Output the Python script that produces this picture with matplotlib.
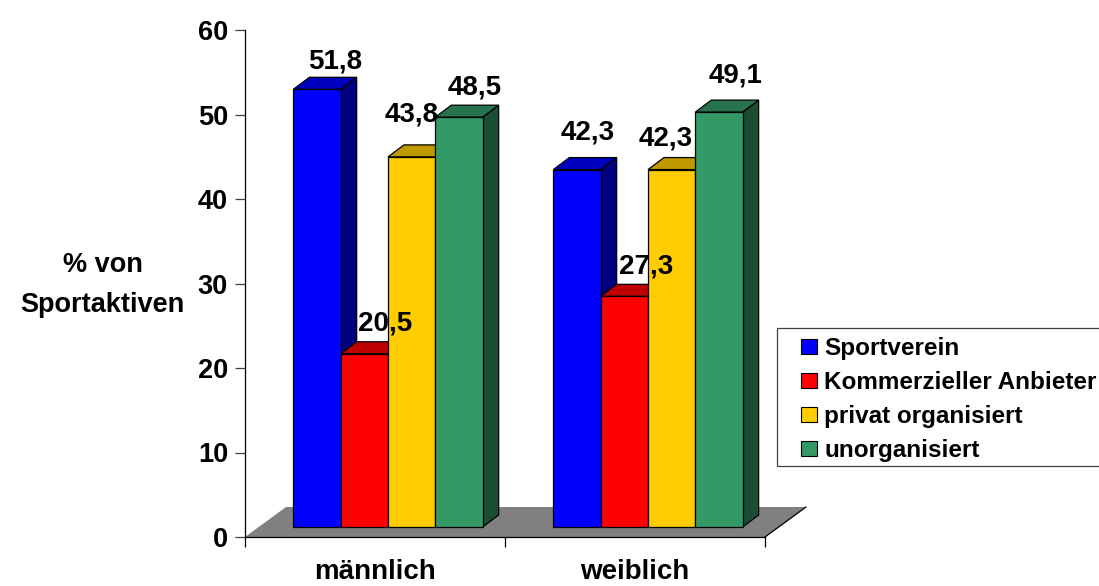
import matplotlib.pyplot as plt
from matplotlib.patches import Polygon, Patch, Rectangle
from matplotlib.transforms import IdentityTransform
from matplotlib.colors import to_rgb
import numpy as np

plt.rcParams['font.family'] = ['Liberation Sans', 'DejaVu Sans']
plt.rcParams['font.weight'] = 'bold'

# Data
categories = ["männlich", "weiblich"]
series_names = ["Sportverein", "Kommerzieller Anbieter", "privat organisiert", "unorganisiert"]
sportverein = [51.8, 42.3]
kommerziell = [20.5, 27.3]
privat = [43.8, 42.3]
unorganisiert = [48.5, 49.1]
series_values = [sportverein, kommerziell, privat, unorganisiert]

colors = ["#0000FF", "#FF0000", "#FFCC00", "#339966"]

# Value label nudges in pixels (x, y above the front top edge), per series and category
label_nudge = [
    [(18, 21), (11, 30)],
    [(21, 23), (22, 23)],
    [(0, 35), (-6, 24)],
    [(16, 23), (17, 30)],
]

# Pseudo-3D offsets in pixels
FRONT = np.array([13, 10])
BACK = np.array([29, 22])
FLOOR = np.array([41, 30])
bar_w = 0.182

W, H = 1099, 586


def shade(c, f):
    return tuple(v * f for v in to_rgb(c))


fig = plt.figure(figsize=(W / 100, H / 100), dpi=100)
ax = fig.add_axes([245 / W, 49 / H, 520 / W, 507 / H])
ax.set_xlim(-0.5, 1.5)
ax.set_ylim(0, 60)


def px(x, y, off=(0, 0)):
    return ax.transData.transform((x, y)) + np.asarray(off)


def poly(pts, fc, z, ec='black', lw=0.9):
    p = Polygon(pts, closed=True, facecolor=fc, edgecolor=ec, linewidth=lw,
                transform=IdentityTransform(), clip_on=False, zorder=z)
    ax.add_patch(p)


# Floor
floor = [px(-0.5, 0), px(1.5, 0), px(1.5, 0, FLOOR), px(-0.5, 0, FLOOR)]
poly(floor, '#808080', 1, ec='none')
r0, r1 = px(1.5, 0), px(1.5, 0, FLOOR)
ax.plot([r0[0], r1[0]], [r0[1], r1[1]], color='black', lw=0.9,
        transform=IdentityTransform(), clip_on=False, zorder=1.5)

# Bars: side, top, front, left to right so each bar covers the previous side
z = 2
for j in range(len(categories)):
    for i, vals in enumerate(series_values):
        v = vals[j]
        x0 = j - 2 * bar_w + i * bar_w
        x1 = x0 + bar_w
        side = [px(x1, 0, FRONT), px(x1, 0, BACK), px(x1, v, BACK), px(x1, v, FRONT)]
        top = [px(x0, v, FRONT), px(x1, v, FRONT), px(x1, v, BACK), px(x0, v, BACK)]
        front = [px(x0, 0, FRONT), px(x1, 0, FRONT), px(x1, v, FRONT), px(x0, v, FRONT)]
        poly(side, shade(colors[i], 0.5), z)
        poly(top, shade(colors[i], 0.75), z + 0.1)
        poly(front, colors[i], z + 0.2)
        z += 1
        dx, dy = label_nudge[i][j]
        ax.annotate(f"{v:.1f}".replace(".", ","), xy=((x0 + x1) / 2, v),
                    xytext=(FRONT[0] + dx, FRONT[1] + dy), textcoords='offset pixels',
                    ha='center', va='baseline', fontsize=20, fontweight='bold',
                    annotation_clip=False, zorder=50)

# Axes styling
for s in ['top', 'right']:
    ax.spines[s].set_visible(False)
for s in ['left', 'bottom']:
    ax.spines[s].set_color('black')
    ax.spines[s].set_linewidth(0.9)
    ax.spines[s].set_zorder(40)

ax.set_yticks(range(0, 61, 10))
ax.tick_params(axis='y', direction='out', length=7.2, width=0.9, colors='#404040',
               labelcolor='black', labelsize=19.5, pad=5)
ax.set_xticks([-0.5, 0.5, 1.5])
ax.set_xticklabels([])
ax.tick_params(axis='x', which='major', direction='out', length=7.2, width=0.9)
ax.set_xticks([0, 1], categories, minor=True)
ax.tick_params(axis='x', which='minor', length=0, labelsize=20, pad=16)
for t in ax.get_xticklabels(minor=True):
    t.set_fontweight('bold')

ax.set_ylabel("% von\nSportaktiven", rotation=0, fontsize=19.5, fontweight='bold',
              ha='center', va='center', linespacing=1.7)
ax.yaxis.set_label_coords(-0.274, 0.497)

# Legend (frame drawn separately; it runs off the right edge)
frame = Rectangle((777 / W, 1 - 466 / H), 340 / W, 138 / H, transform=fig.transFigure,
                  facecolor='white', edgecolor='#404040', linewidth=0.9, zorder=0)
fig.add_artist(frame)
handles = [Patch(facecolor=c, edgecolor='black', linewidth=0.8) for c in colors]
leg = fig.legend(handles, series_names, loc='upper left',
                 bbox_to_anchor=(801 / W, 1 - 337 / H), fontsize=17.5,
                 frameon=False, handlelength=0.66, handleheight=0.58, handletextpad=0.3,
                 borderpad=0, borderaxespad=0, labelspacing=0.45)
for t in leg.get_texts():
    t.set_fontweight('bold')

plt.savefig("out.png", dpi=100)
